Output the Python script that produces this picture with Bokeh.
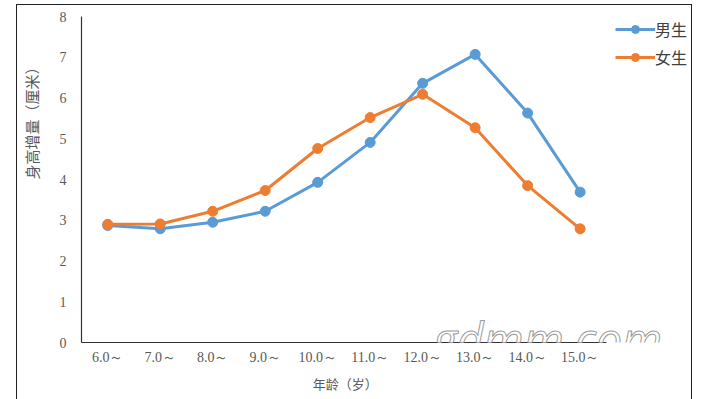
from bokeh.plotting import figure
from bokeh.models import (Range1d, FixedTicker, Legend, LegendItem, Label)
from bokeh.embed import file_html
from bokeh.resources import INLINE

ages = ["6.0～", "7.0～", "8.0～", "9.0～", "10.0～", "11.0～", "12.0～", "13.0～", "14.0～", "15.0～"]
boys = [2.87, 2.79, 2.95, 3.22, 3.93, 4.91, 6.36, 7.07, 5.63, 3.69]
girls = [2.90, 2.91, 3.22, 3.73, 4.76, 5.52, 6.09, 5.27, 3.85, 2.79]
y_ticks = [0, 1, 2, 3, 4, 5, 6, 7, 8]

xs = list(range(len(ages)))

BLUE = "#5B9BD5"
ORANGE = "#ED7D31"
GRAY = "#595959"

p = figure(width=676, frame_height=326, output_backend="svg", toolbar_location=None,
           x_range=Range1d(-0.5, 11.16), y_range=Range1d(0, 8),
           min_border_left=64, min_border_top=11, min_border_bottom=57, min_border_right=0)
p.outline_line_color = None
p.grid.visible = False
p.styles = {"margin-left": "16px", "margin-top": "4px", "box-sizing": "border-box",
            "border-top": "1px solid #222", "border-left": "1px solid #222",
            "border-right": "1px solid #222"}

for ax in (p.xaxis[0], p.yaxis[0]):
    ax.axis_line_color = "#333333"
    ax.axis_line_width = 1.2
    ax.major_tick_line_color = None
    ax.minor_tick_line_color = None
    ax.major_label_text_color = GRAY
    ax.major_label_text_font_size = "14px"

p.yaxis.ticker = FixedTicker(ticks=y_ticks)
p.yaxis.major_label_text_font = "Liberation Serif"
p.yaxis.major_label_standoff = 9
p.yaxis.axis_label = "\u3000" * 8 + "身高增量（厘米）"
p.yaxis.axis_label_text_font = "Noto Sans CJK SC"
p.yaxis.axis_label_text_font_style = "normal"
p.yaxis.axis_label_text_font_size = "15px"
p.yaxis.axis_label_text_color = GRAY
p.yaxis.axis_label_standoff = 15

p.xaxis.bounds = (-0.5, len(ages) - 0.5)
p.xaxis.ticker = FixedTicker(ticks=xs)
p.xaxis.major_label_overrides = {i: lab for i, lab in zip(xs, ages)}
p.xaxis.major_label_text_font = "Liberation Serif"
p.xaxis.major_label_standoff = 1
p.xaxis.axis_label = "年龄（岁）" + "\u3000" * 7
p.xaxis.axis_label_text_font = "Noto Sans CJK SC"
p.xaxis.axis_label_text_font_style = "normal"
p.xaxis.axis_label_text_font_size = "13px"
p.xaxis.axis_label_text_color = GRAY
p.xaxis.axis_label_standoff = 6

lb = p.line(xs, boys, line_color=BLUE, line_width=3)
cb = p.scatter(xs, boys, size=10, fill_color=BLUE, line_color=BLUE)
lg = p.line(xs, girls, line_color=ORANGE, line_width=3)
cg = p.scatter(xs, girls, size=10, fill_color=ORANGE, line_color=ORANGE)

legend = Legend(items=[LegendItem(label="男生", renderers=[lb, cb]),
                       LegendItem(label="女生", renderers=[lg, cg])],
                location=(534, 273), orientation="vertical",
                border_line_color=None, background_fill_alpha=0,
                glyph_width=40, glyph_height=20, label_height=20,
                label_standoff=0, spacing=4, padding=2, margin=0,
                label_text_font="Noto Sans CJK SC", label_text_font_size="16px",
                label_text_color="#404040")
p.add_layout(legend)

wm = Label(x=6.2, y=0.12, text="gdmm.com", text_align="left", text_baseline="middle",
           text_font="Open Sans", text_font_style="italic", text_font_size="46px",
           text_color="white", text_outline_color="#9a9a9a")
p.add_layout(wm)

open("out.html", "w").write(file_html(p, INLINE))
